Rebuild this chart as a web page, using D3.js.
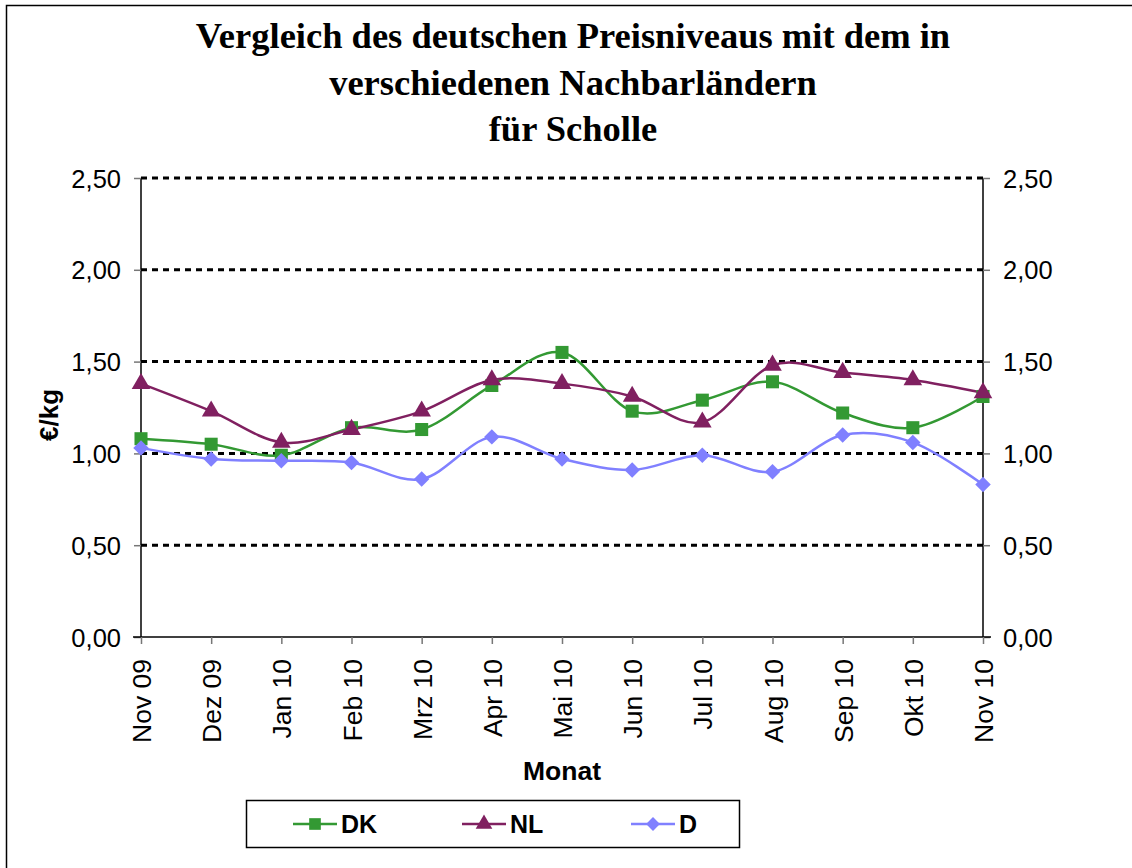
<!DOCTYPE html>
<html>
<head>
<meta charset="utf-8">
<script src="https://cdn.jsdelivr.net/npm/d3@7"></script>
<style>
  body { margin: 0; background: #fff; }
  text { fill: #000; }
</style>
</head>
<body>
<svg id="chart" width="1132" height="868"></svg>
<script>
// data
const months = ['Nov 09', 'Dez 09', 'Jan 10', 'Feb 10', 'Mrz 10', 'Apr 10', 'Mai 10',
  'Jun 10', 'Jul 10', 'Aug 10', 'Sep 10', 'Okt 10', 'Nov 10'];
const dk = [1.08, 1.05, 0.99, 1.14, 1.13, 1.37, 1.55, 1.23, 1.29, 1.39, 1.22, 1.14, 1.31];
const nl = [1.38, 1.23, 1.06, 1.13, 1.23, 1.40, 1.38, 1.31, 1.17, 1.48, 1.44, 1.40, 1.33];
const de = [1.03, 0.97, 0.96, 0.95, 0.86, 1.09, 0.97, 0.91, 0.99, 0.90, 1.10, 1.06, 0.83];
const yTicks = [0, 0.5, 1, 1.5, 2, 2.5];
const titleLines = ['Vergleich des deutschen Preisniveaus mit dem in',
  'verschiedenen Nachbarländern', 'für Scholle'];

// diamond = square turned by 45 degrees (wider than d3's symbolDiamond)
const rotatedSquare = {
  draw(ctx, size) {
    const r = Math.sqrt(size / 2);
    ctx.moveTo(0, -r);
    ctx.lineTo(r, 0);
    ctx.lineTo(0, r);
    ctx.lineTo(-r, 0);
    ctx.closePath();
  }
};

const series = [
  {name: 'DK', values: dk, color: '#339933', shape: d3.symbolSquare, size: 170},
  {name: 'NL', values: nl, color: '#802060', shape: d3.symbolTriangle, size: 150},
  {name: 'D', values: de, color: '#8080ff', shape: rotatedSquare, size: 120}
];

const svg = d3.select('#chart');
const fmt = v => d3.format('.2f')(v).replace('.', ',');
const sans = '"Liberation Sans", Arial, sans-serif';

// frame (only top + left visible in the picture)
svg.append('rect')
  .attr('x', 6.5).attr('y', 5.5)
  .attr('width', 1140).attr('height', 880)
  .attr('fill', 'none').attr('stroke', '#000').attr('stroke-width', 1.5);

const margin = {top: 178, left: 141},
    width = 983 - 141,
    height = 637 - 178;

const g = svg.append('g')
  .attr('transform', 'translate(' + margin.left + ',' + margin.top + ')');

const x = d3.scalePoint().domain(months).range([0, width]);
const y = d3.scaleLinear().domain([0, 2.5]).range([height, 0]);

// title
svg.append('g').selectAll('text')
  .data(titleLines)
  .enter().append('text')
  .attr('x', 573)
  .attr('y', (d, i) => 48 + i * 46.5)
  .attr('text-anchor', 'middle')
  .style('font-family', '"Liberation Serif", "Times New Roman", serif')
  .style('font-weight', 'bold')
  .style('font-size', '36.5px')
  .text(d => d);

// grid
g.append('g').selectAll('line')
  .data(yTicks.filter(d => d > 0))
  .enter().append('line')
  .attr('x1', 0).attr('x2', width)
  .attr('y1', d => y(d)).attr('y2', d => y(d))
  .attr('stroke', '#000')
  .attr('stroke-width', 3)
  .attr('stroke-dasharray', '6,5');

const axisFont = sel => sel.selectAll('text')
  .style('font-family', sans)
  .style('font-size', '25.5px')
  .attr('fill', '#000');

// y axes
const yLeft = g.append('g')
  .call(d3.axisLeft(y).tickValues(yTicks).tickFormat(fmt).tickSize(7).tickPadding(13));
const yRight = g.append('g')
  .attr('transform', 'translate(' + width + ',0)')
  .call(d3.axisRight(y).tickValues(yTicks).tickFormat(fmt).tickSize(7).tickPadding(13));
[yLeft, yRight].forEach(a => {
  a.select('.domain').attr('stroke', '#000').attr('stroke-width', 1.5)
    .attr('d', 'M0,0V' + height);
  a.selectAll('.tick line').attr('stroke', '#777').attr('stroke-width', 1.5);
  axisFont(a);
  a.selectAll('text').attr('dy', '0.36em');
});

// x axis
const xAxis = g.append('g')
  .attr('transform', 'translate(0,' + height + ')')
  .call(d3.axisBottom(x).tickSize(7).tickPadding(0));
xAxis.select('.domain').attr('stroke', '#000').attr('stroke-width', 1.5)
  .attr('d', 'M-8,0H' + (width + 8));
xAxis.selectAll('.tick line').attr('stroke', '#777').attr('stroke-width', 1.5);
axisFont(xAxis);
xAxis.selectAll('text')
  .style('font-size', '26.5px')
  .attr('text-anchor', 'end')
  .attr('transform', 'rotate(-90)')
  .attr('x', -22).attr('y', 0)
  .attr('dy', '0.36em');

// axis titles
svg.append('text')
  .attr('transform', 'translate(58,415) rotate(-90)')
  .attr('text-anchor', 'middle')
  .style('font-family', sans)
  .style('font-weight', 'bold')
  .style('font-size', '26px')
  .text('€/kg');

svg.append('text')
  .attr('x', 562).attr('y', 780)
  .attr('text-anchor', 'middle')
  .style('font-family', sans)
  .style('font-weight', 'bold')
  .style('font-size', '26.5px')
  .text('Monat');

// lines + markers
const line = d3.line()
  .x((d, i) => x(months[i]))
  .y(d => y(d))
  .curve(d3.curveCardinal.tension(0));

series.forEach(s => {
  g.append('path')
    .datum(s.values)
    .attr('d', line)
    .attr('fill', 'none')
    .attr('stroke', s.color)
    .attr('stroke-width', 2.5);
});
series.forEach(s => {
  g.append('g').selectAll('path')
    .data(s.values)
    .enter().append('path')
    .attr('transform', (d, i) => 'translate(' + x(months[i]) + ',' + y(d) + ')')
    .attr('d', d3.symbol().type(s.shape).size(s.size))
    .attr('fill', s.color);
});

// legend
const legend = svg.append('g');
legend.append('rect')
  .attr('x', 246.5).attr('y', 800.5)
  .attr('width', 493).attr('height', 47)
  .attr('fill', '#fff').attr('stroke', '#000').attr('stroke-width', 1.5);

const legendX = d3.scalePoint().domain(series.map(s => s.name)).range([315, 653]);
const item = legend.selectAll('.item')
  .data(series)
  .enter().append('g')
  .attr('transform', d => 'translate(' + legendX(d.name) + ',824)');
item.append('line')
  .attr('x1', -22).attr('x2', 22)
  .attr('stroke', d => d.color).attr('stroke-width', 2.5);
item.append('path')
  .attr('d', d => d3.symbol().type(d.shape).size(d.size * 0.8)())
  .attr('fill', d => d.color);
item.append('text')
  .attr('x', 26).attr('dy', '0.36em')
  .style('font-family', sans)
  .style('font-weight', 'bold')
  .style('font-size', '25px')
  .text(d => d.name);
</script>
</body>
</html>
